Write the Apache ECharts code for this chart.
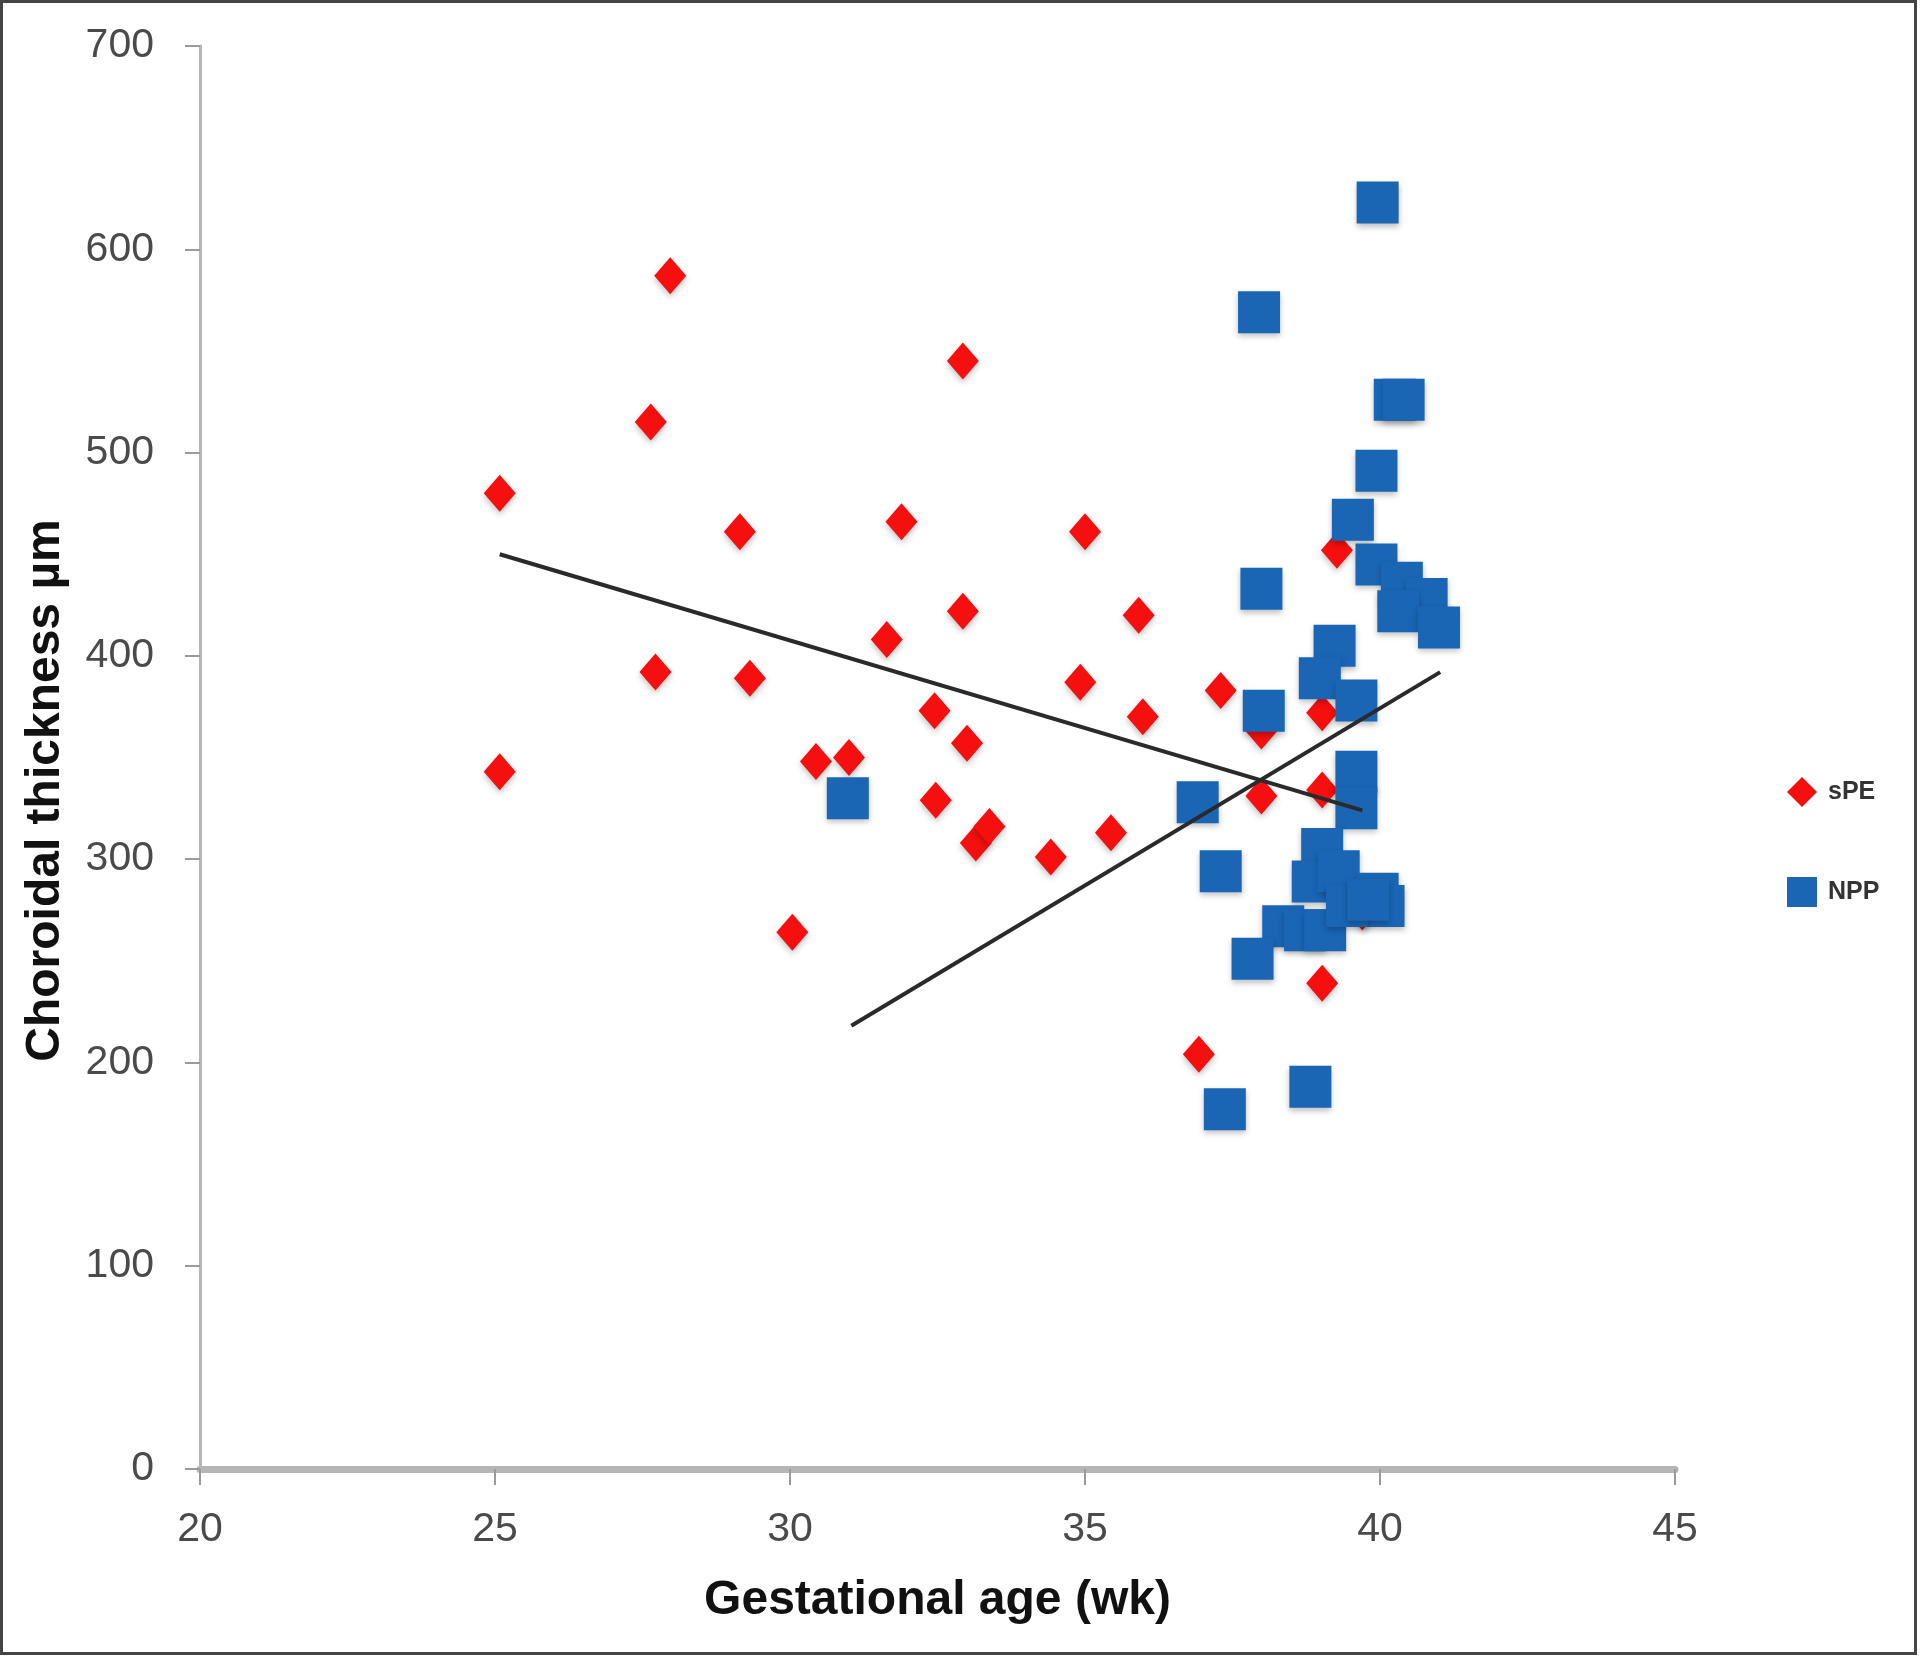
<!DOCTYPE html>
<html>
<head>
<meta charset="utf-8">
<script src="https://cdn.jsdelivr.net/npm/echarts@6/dist/echarts.min.js"></script>
<style>
html,body{margin:0;padding:0;background:#fff;}
#chart{width:1920px;height:1656px;}
</style>
</head>
<body>
<div id="chart"></div>
<script>
// sPE: [gestational age (wk), choroidal thickness (µm)]
const spePoints = [
  [25.08,480],[25.08,343],[27.97,587],[27.64,515],[27.72,392],[29.15,461],[29.32,389],
  [30.04,264],[30.44,348],[31.0,350],[31.89,466],[31.64,408],[32.45,373],[32.47,329],
  [32.93,545],[32.93,422],[33.0,357],[33.15,308],[33.38,316],[34.42,301],[35.0,461],
  [34.92,387],[35.44,313],[35.91,420],[35.98,370],[36.93,204],[37.3,383],[37.99,363],
  [37.99,331],[39.02,372],[39.02,334],[39.27,452],[39.02,239],[39.7,274]
];
// NPP: [gestational age (wk), choroidal thickness (µm)]
const nppPoints = [
  [39.96,623],[37.95,569],[40.25,526],[40.4,526],[39.94,491],[39.54,467],[37.99,433],
  [39.94,445],[40.37,436],[40.79,428],[40.31,422],[41.0,414],[39.23,405],[38.98,389],
  [39.6,378],[38.03,373],[30.98,330],[36.91,328],[39.6,343],[39.6,325],[37.3,294],
  [39.02,305],[38.86,289],[39.3,294],[39.96,283],[40.06,277],[38.36,267],[38.73,265],
  [39.07,265],[37.84,251],[39.44,277],[38.82,188],[37.37,177],[39.8,280]
];
// linear trend line end points
const speTrend = [[25.08,450],[39.7,324]];
const nppTrend = [[31.04,218],[41.02,392]];
const seriesNames = ['sPE','NPP'];
const xAxisTitle = 'Gestational age (wk)';
const yAxisTitle = 'Choroidal thickness µm';

const chart = echarts.init(document.getElementById('chart'), null, {renderer:'canvas'});
const tickFont = {fontFamily:'Liberation Sans', fontSize:41, color:'#4a4a4a'};
chart.setOption({
  animation:false,
  backgroundColor:'#ffffff',
  grid:{left:200, right:245, top:46, bottom:187, containLabel:false},
  xAxis:{
    type:'value', min:20, max:45, interval:5,
    name:xAxisTitle, nameLocation:'middle', nameGap:108,
    nameTextStyle:{fontFamily:'Liberation Sans', fontWeight:'bold', fontSize:48, color:'#111'},
    axisLine:{show:true, onZero:false, lineStyle:{color:'#b5b5b5', width:7}},
    axisTick:{show:true, inside:false, length:16, lineStyle:{color:'#9a9a9a', width:2}},
    axisLabel:Object.assign({margin:40}, tickFont),
    splitLine:{show:false}
  },
  yAxis:{
    type:'value', min:0, max:700, interval:100,
    name:yAxisTitle, nameLocation:'middle', nameGap:130, nameRotate:90,
    nameTextStyle:{fontFamily:'Liberation Sans', fontWeight:'bold', fontSize:48, color:'#111', padding:[0,66,0,0]},
    axisLine:{show:true, onZero:false, lineStyle:{color:'#b5b5b5', width:3}},
    axisTick:{show:true, inside:false, length:15, lineStyle:{color:'#9a9a9a', width:2}},
    axisLabel:Object.assign({margin:46}, tickFont),
    splitLine:{show:false}
  },
  legend:{
    data:seriesNames, orient:'vertical', left:1782, top:772, itemGap:70,
    itemWidth:30, itemHeight:30,
    textStyle:{fontFamily:'Liberation Sans', fontWeight:'bold', fontSize:25, color:'#333', padding:[0,0,0,6]}
  },
  series:[
    {name:seriesNames[0], type:'scatter', data:spePoints, symbol:'diamond', symbolSize:[32,37],
     itemStyle:{color:'#f50f0f', opacity:1, shadowColor:'rgba(0,0,0,0.25)', shadowBlur:6, shadowOffsetY:3}, z:2},
    {name:seriesNames[1], type:'scatter', data:nppPoints, symbol:'rect', symbolSize:42,
     itemStyle:{color:'#1a66b5', opacity:1, shadowColor:'rgba(0,0,0,0.25)', shadowBlur:6, shadowOffsetY:3}, z:3},
    {name:'sPE trend', type:'line', data:speTrend, symbol:'none', z:4,
     lineStyle:{color:'#2a2a2a', width:4}},
    {name:'NPP trend', type:'line', data:nppTrend, symbol:'none', z:4,
     lineStyle:{color:'#2a2a2a', width:4}}
  ],
  graphic:[
    {type:'rect', z:100, shape:{x:1.5, y:1.5, width:1914, height:1652},
     style:{fill:null, stroke:'#444', lineWidth:3}}
  ]
});
</script>
</body>
</html>
